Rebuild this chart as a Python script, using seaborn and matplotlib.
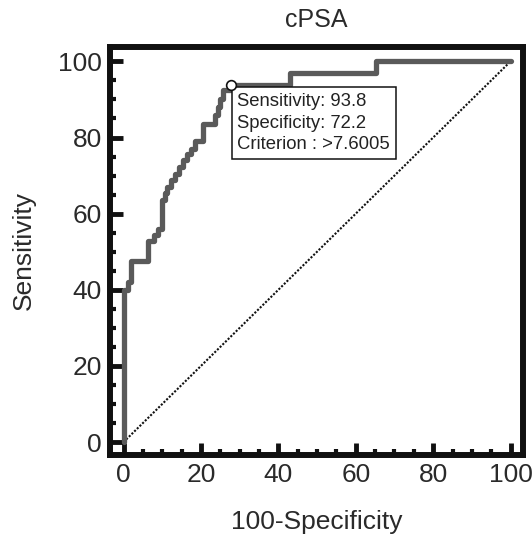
import matplotlib
matplotlib.use("Agg")
import matplotlib.pyplot as plt
import seaborn as sns
import pandas as pd
import numpy as np

# ROC curve corners (100-Specificity, Sensitivity), drawn as steps
fpr = [0, 1.1, 1.9, 6.4, 7.8, 8.8, 9.9, 10.6, 11.3, 12.2, 13.3, 14.2, 15.3,
       16.3, 17.5, 18.5, 20.6, 23.6, 24.3, 25.0, 25.8, 27.8, 43.0, 65.2, 100]
tpr = [0, 40, 42, 47.5, 52.7, 54.5, 56, 63.5, 65.4, 67, 68.8, 70.5, 72.2,
       74, 75.8, 77, 79.2, 83.6, 85.8, 88, 90.2, 92.4, 93.8, 96.9, 100]

ref_x = [0, 100]
ref_y = [0, 100]

cut_spec = 72.2
cut_sens = 93.8
criterion = ">7.6005"
title = "cPSA"
xticks = [0, 20, 40, 60, 80, 100]
yticks = [0, 20, 40, 60, 80, 100]

sns.set_theme(style="white")
plt.rcParams["font.family"] = ["Liberation Sans", "DejaVu Sans"]

fig = plt.figure(figsize=(5.32, 5.36), dpi=100)
ax = fig.add_axes([0.2068, 0.1511, 0.983 - 0.2068, 0.9132 - 0.1511])

df = pd.DataFrame({"x": fpr, "y": tpr})
sns.lineplot(data=df, x="x", y="y", ax=ax, sort=False, estimator=None,
             drawstyle="steps-pre", color="#5a5a5a", linewidth=3.8, zorder=3)
ax.plot(ref_x, ref_y, linestyle=(0, (1, 0.8)), color="#111111", linewidth=1.5, zorder=2)
ax.plot([100 - cut_spec], [cut_sens], marker="o", markersize=7, markerfacecolor="white",
        markeredgecolor="#111111", markeredgewidth=1.2, zorder=5, linestyle="none")

ax.text(100 - cut_spec + 1.6, cut_sens - 2.0,
        f"Sensitivity: {cut_sens}\nSpecificity: {cut_spec}\nCriterion : {criterion}",
        ha="left", va="top", fontsize=13.3, color="#222222", linespacing=1.38, zorder=4,
        bbox=dict(boxstyle="square,pad=0.3", fc="white", ec="#111111", lw=1.1))

ax.set_xlim(-3.5, 103.2)
ax.set_ylim(-3.4, 103.9)
ax.set_xticks(xticks)
ax.set_yticks(yticks)
ax.set_xticks(np.arange(0, 101, 5), minor=True)
ax.set_yticks(np.arange(0, 101, 5), minor=True)
ax.tick_params(which="major", direction="in", length=9, width=3.5, color="#111111",
               labelsize=19, labelcolor="#2a2a2a", pad=6, left=True, bottom=True)
ax.tick_params(which="minor", direction="in", length=4.5, width=3, color="#111111",
               left=True, bottom=True)
for s in ax.spines.values():
    s.set_linewidth(4.3)
    s.set_color("#111111")

ax.set_xlabel("100-Specificity", fontsize=19, color="#2a2a2a", labelpad=16)
ax.set_ylabel("Sensitivity", fontsize=19, color="#2a2a2a", labelpad=16)
ax.set_title(title, fontsize=18, color="#2a2a2a", pad=14)

fig.savefig("out.png", dpi=100)
